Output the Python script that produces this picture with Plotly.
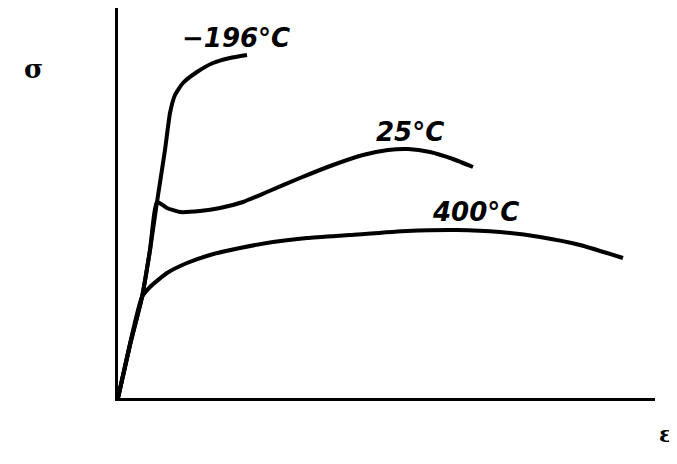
import plotly.graph_objects as go

# Schematic stress-strain curves (arbitrary units)
strain_m196 = [0, 12, 24, 32, 39, 47, 52, 57, 65, 79, 95, 112, 129]
stress_m196 = [0, 53, 101, 148, 196, 248, 285, 303, 315, 326, 335, 340, 343]

strain_25 = [0, 12, 24, 32, 39, 49, 62, 82, 102, 125, 149, 182, 215, 245, 270, 290, 312, 335, 355]
stress_25 = [0, 53, 101, 148, 196, 190, 186, 187, 190, 196, 206, 220, 233, 243, 248, 249, 246, 239, 231]

strain_400 = [0, 24, 32, 49, 69, 92, 122, 155, 189, 232, 289, 339, 382, 422, 462, 505]
stress_400 = [0, 101, 111, 125, 135, 143, 150, 156, 160, 163, 167, 168, 166, 161, 153, 140]

labels = ["−196°C", "25°C", "400°C"]
label_x = [118, 292, 357]
label_y = [360, 266, 186]

fig = go.Figure()
for xs, ys in [(strain_m196, stress_m196), (strain_25, stress_25), (strain_400, stress_400)]:
    fig.add_trace(go.Scatter(x=xs, y=ys, mode="lines",
                             line=dict(color="black", width=4, shape="spline", smoothing=0.5),
                             showlegend=False, hoverinfo="skip"))

for t, x, y in zip(labels, label_x, label_y):
    fig.add_annotation(x=x, y=y, xref="x", yref="y", text="<b><i>" + t + "</i></b>",
                       showarrow=False, font=dict(family="DejaVu Sans", size=26, color="black"))

fig.add_annotation(x=-0.179, y=0.887, xref="paper", yref="paper", text="<b>σ</b>", showarrow=False,
                   font=dict(family="DejaVu Serif", size=26, color="black"))
fig.add_annotation(x=1.035, y=-0.131, xref="paper", yref="paper", text="<b>ε</b>", showarrow=False,
                   font=dict(family="DejaVu Serif", size=22, color="black"))

fig.update_xaxes(range=[0, 537], showline=True, linewidth=3, linecolor="black",
                 showgrid=False, zeroline=False, showticklabels=False, ticks="")
fig.update_yaxes(range=[0, 390], showline=True, linewidth=3, linecolor="black",
                 showgrid=False, zeroline=False, showticklabels=False, ticks="")
# page body adds an 8px margin, so the figure is 8px smaller and offsets are reduced by 8
fig.update_layout(width=669, height=456, margin=dict(l=110, r=22, t=0, b=66),
                  plot_bgcolor="white", paper_bgcolor="white")
fig.write_html("out.html")
